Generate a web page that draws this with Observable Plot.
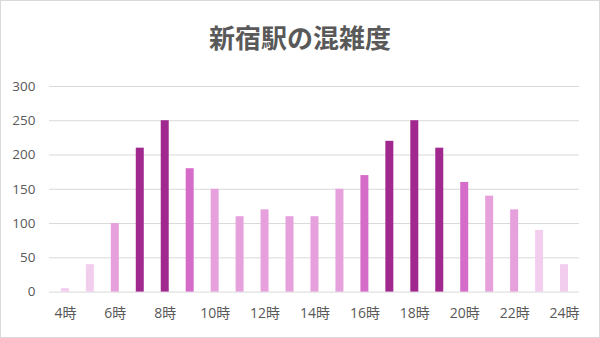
<!DOCTYPE html>
<html>
<head>
<meta charset="utf-8">
<script src="https://cdn.jsdelivr.net/npm/d3@7"></script>
<script src="https://cdn.jsdelivr.net/npm/@observablehq/plot@0.6"></script>
<style>
  html, body { margin: 0; padding: 0; background: #fff; }
  #wrap { position: relative; width: 600px; height: 338px; box-sizing: border-box; border: 1px solid #d9d9d9; background: #fff; overflow: hidden; }
  #title { position: absolute; top: 20px; left: 0; width: 598px; text-align: center; font-family: "Noto Sans CJK JP", sans-serif; font-weight: bold; font-size: 26px; color: #595959; line-height: 32px; }
  #chart { position: absolute; top: 59px; left: -1px; }
</style>
</head>
<body>
<div id="wrap">
  <div id="title">新宿駅の混雑度</div>
  <div id="chart"></div>
</div>
<script>
const hours = [4,5,6,7,8,9,10,11,12,13,14,15,16,17,18,19,20,21,22,23,24];
const values = [5,40,100,210,250,180,150,110,120,110,110,150,170,220,250,210,160,140,120,90,40];
const tickHours = [4,6,8,10,12,14,16,18,20,22,24];
const yTicks = [0,50,100,150,200,250,300];
const levelBreaks = [100,160,200];
const levelColors = ["#f2cdee","#e6a0dc","#d66cc9","#a0288f"];

const data = hours.map((h, i) => ({hour: h, value: values[i]}));

const chart = Plot.plot({
  width: 600,
  height: 277,
  marginTop: 26,
  marginBottom: 45,
  marginLeft: 49,
  marginRight: 20,
  style: {fontFamily: "'Open Sans', 'Noto Sans CJK JP', sans-serif", fontSize: "13.5px", color: "#595959", background: "transparent"},
  x: {type: "band", domain: hours, paddingInner: 0.68, paddingOuter: 0.34, label: null},
  y: {domain: [0, 300], label: null},
  color: {type: "threshold", domain: levelBreaks, range: levelColors},
  marks: [
    Plot.gridY(yTicks, {stroke: "#d9d9d9", strokeOpacity: 1, strokeWidth: 1}),
    Plot.axisY(yTicks, {tickSize: 0, tickPadding: 14, label: null, fill: "#595959", fontSize: 13.5}),
    Plot.axisX(tickHours, {tickSize: 0, tickPadding: 16, label: null, tickFormat: d => d + "時", fill: "#595959", fontSize: 14}),
    Plot.barY(data, {x: "hour", y: "value", fill: "value"})
  ]
});
document.getElementById("chart").appendChild(chart);
</script>
</body>
</html>
